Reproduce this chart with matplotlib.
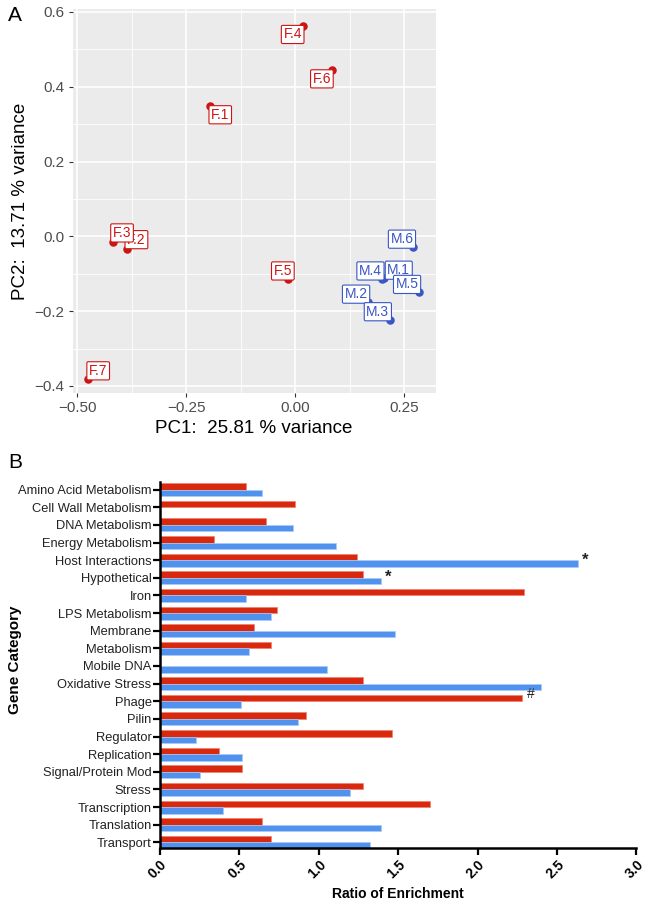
import matplotlib

matplotlib.use("Agg")
import matplotlib.pyplot as plt
import numpy as np

plt.rcParams["font.family"] = ["Liberation Sans", "DejaVu Sans"]

# ---- Panel A data (PCA) ----
samples = ["F.1", "F.2", "F.3", "F.4", "F.5", "F.6", "F.7",
           "M.1", "M.2", "M.3", "M.4", "M.5", "M.6"]
pc1 = [-0.195, -0.385, -0.418, 0.017, -0.017, 0.084, -0.475,
       0.203, 0.167, 0.217, 0.200, 0.284, 0.270]
pc2 = [0.349, -0.033, -0.015, 0.561, -0.114, 0.445, -0.381,
       -0.112, -0.176, -0.223, -0.114, -0.150, -0.029]
# label offsets (pixels) mimicking ggrepel placement
lab_dx = [10, 9, 9, -10, -5, -10, 10, 15, -12, -12, -12, -12, -11]
lab_dy = [-9, 9, 9, -8, 8, -9, 8, 8, 8, 8, 8, 8, 8]

# ---- Panel B data ----
categories = ["Amino Acid Metabolism", "Cell Wall Metabolism", "DNA Metabolism",
              "Energy Metabolism", "Host Interactions", "Hypothetical", "Iron",
              "LPS Metabolism", "Membrane", "Metabolism", "Mobile DNA",
              "Oxidative Stress", "Phage", "Pilin", "Regulator", "Replication",
              "Signal/Protein Mod", "Stress", "Transcription", "Translation",
              "Transport"]
red_vals = [0.54, 0.85, 0.67, 0.34, 1.24, 1.28, 2.29, 0.74, 0.59, 0.70, 0.0,
            1.28, 2.28, 0.92, 1.46, 0.37, 0.52, 1.28, 1.70, 0.64, 0.70]
blue_vals = [0.64, 0.0, 0.84, 1.11, 2.63, 1.39, 0.54, 0.70, 1.48, 0.56, 1.05,
             2.40, 0.51, 0.87, 0.23, 0.52, 0.25, 1.20, 0.40, 1.39, 1.32]
marks = [("Host Interactions", "blue", "*"), ("Hypothetical", "blue", "*"),
         ("Phage", "red", "#")]

RED_PT = "#CC1414"
BLUE_PT = "#3A56C5"
RED_BAR = "#D8290E"
BLUE_BAR = "#5192EE"

fig = plt.figure(figsize=(6.5, 8.99), dpi=100)

# ============================================================
# Panel A
# ============================================================
ax1 = fig.add_axes([0.1118, 0.5628, 0.5584, 0.4269])
ax1.set_facecolor("#EBEBEB")
ax1.set_xlim(-0.5106, 0.322)
ax1.set_ylim(-0.419, 0.607)
ax1.set_xticks([-0.5, -0.25, 0.0, 0.25])
ax1.set_xticklabels(["\u22120.50", "\u22120.25", "0.00", "0.25"])
ax1.set_yticks([-0.4, -0.2, 0.0, 0.2, 0.4, 0.6])
ax1.set_yticklabels(["\u22120.4", "\u22120.2", "0.0", "0.2", "0.4", "0.6"])
ax1.set_xticks([-0.375, -0.125, 0.125], minor=True)
ax1.set_yticks([-0.3, -0.1, 0.1, 0.3, 0.5], minor=True)
ax1.grid(which="major", color="white", linewidth=1.2)
ax1.grid(which="minor", color="white", linewidth=0.6)
ax1.set_axisbelow(True)
for s in ax1.spines.values():
    s.set_visible(False)
ax1.tick_params(which="major", length=3, width=0.8, color="#333333",
                labelsize=11, labelcolor="#4D4D4D", pad=3)
ax1.tick_params(which="minor", length=0)

for name, x, y, dx, dy in zip(samples, pc1, pc2, lab_dx, lab_dy):
    c = RED_PT if name.startswith("F") else BLUE_PT
    ax1.scatter(x, y, s=26, color=c, zorder=3)
    ax1.annotate(name, (x, y), xytext=(dx, dy), textcoords="offset pixels",
                 ha="center", va="center", fontsize=10, color=c, zorder=4,
                 bbox=dict(boxstyle="round,pad=0.15,rounding_size=0.1",
                           fc="white", ec=c, lw=0.8))

ax1.set_xlabel("PC1:  25.81 % variance", fontsize=13.5, labelpad=3)
ax1.set_ylabel("PC2:  13.71 % variance", fontsize=13.5, labelpad=4)
fig.text(0.012, 0.983, "A", fontsize=15, ha="left", va="center")

# ============================================================
# Panel B
# ============================================================
ax2 = fig.add_axes([0.246, 0.0571, 0.733, 0.4071])
ypos = np.arange(len(categories))
h = 0.37
ax2.barh(ypos - h / 2, red_vals, height=h, color=RED_BAR,
         edgecolor="#F08070", linewidth=0.5)
ax2.barh(ypos + h / 2, blue_vals, height=h, color=BLUE_BAR,
         edgecolor="#A9CBF8", linewidth=0.5)

for cat, series, sym in marks:
    i = categories.index(cat)
    if series == "blue":
        x, y = blue_vals[i], i + h / 2
    else:
        x, y = red_vals[i], i - h / 2
    ax2.text(x + 0.03, y - 0.2, sym, fontsize=12 if sym == "*" else 10,
             ha="left", va="center", color="#222222",
             fontweight="bold" if sym == "*" else "normal")

ax2.set_xlim(0, 3.0)
ax2.set_ylim(20.3, -0.45)
ax2.set_yticks(ypos)
ax2.set_yticklabels(categories, fontsize=9.3, color="#222222")
ax2.set_xticks([0.0, 0.5, 1.0, 1.5, 2.0, 2.5, 3.0])
ax2.set_xticklabels(["0.0", "0.5", "1.0", "1.5", "2.0", "2.5", "3.0"],
                    rotation=45, ha="right", rotation_mode="anchor",
                    fontsize=10, fontweight="bold")
ax2.spines["top"].set_visible(False)
ax2.spines["right"].set_visible(False)
ax2.spines["left"].set_linewidth(1.8)
ax2.spines["bottom"].set_linewidth(1.8)
ax2.tick_params(axis="y", length=5, width=1.6, pad=1)
ax2.tick_params(axis="x", length=5, width=1.6, pad=2)
ax2.set_xlabel("Ratio of Enrichment", fontsize=10, fontweight="bold", labelpad=4)
ax2.set_ylabel("Gene Category", fontsize=11, fontweight="bold")
ax2.yaxis.set_label_coords(-0.29, 0.513)
fig.text(0.012, 0.486, "B", fontsize=15, ha="left", va="center")

fig.savefig("out.png", dpi=100)
plt.close(fig)
